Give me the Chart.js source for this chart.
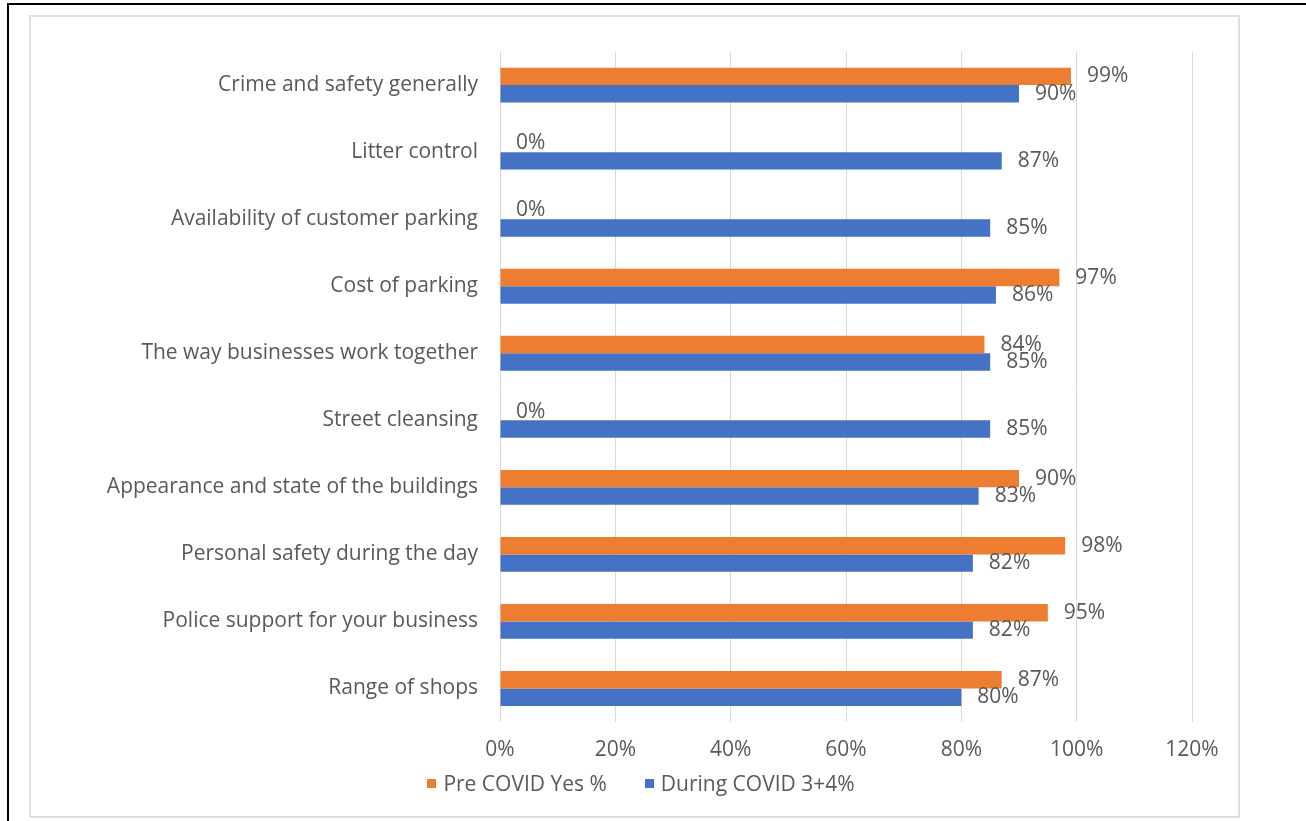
<!DOCTYPE html>
<html>
<head>
<meta charset="utf-8">
<script src="https://cdn.jsdelivr.net/npm/chart.js@4.4.1/dist/chart.umd.min.js"></script>
<style>
  html, body { margin: 0; padding: 0; background: #fff; width: 1306px; height: 821px; overflow: hidden; }
  #frame { position: absolute; left: 7px; top: 3px; width: 1320px; height: 840px;
           border-top: 2px solid #000; border-left: 2px solid #000; }
  #panel { position: absolute; left: 29px; top: 15px; width: 1207px; height: 799px;
           border: 2px solid #e0e0e0; background: #fff; }
  #chartBox { position: absolute; left: 0; top: 0; width: 1207px; height: 799px; }
  #legend { position: absolute; left: 0; top: 753px; width: 1207px; box-sizing: border-box;
            padding-left: 13px; display: flex; justify-content: center; align-items: center;
            font: 21px "Open Sans", sans-serif; color: #595959; line-height: 26px; }
  #legend .item { display: flex; align-items: center; margin: 0 19px; }
  #legend .box { width: 9px; height: 9px; margin-right: 7px; }
</style>
</head>
<body>
<div id="frame"></div>
<div id="panel">
  <div id="chartBox"><canvas id="chart"></canvas></div>
  <div id="legend"></div>
</div>
<script>
const categories = [
  'Crime and safety generally',
  'Litter control',
  'Availability of customer parking',
  'Cost of parking',
  'The way businesses work together',
  'Street cleansing',
  'Appearance and state of the buildings',
  'Personal safety during the day',
  'Police support for your business',
  'Range of shops'
];
const preCovid = [99, 0, 0, 97, 84, 0, 90, 98, 95, 87];
const duringCovid = [90, 87, 85, 86, 85, 85, 83, 82, 82, 80];
const seriesNames = ['Pre COVID Yes %', 'During COVID 3+4%'];
const xTicks = [0, 20, 40, 60, 80, 100, 120];

const ORANGE = '#ED7D31';
const BLUE = '#4472C4';
const TEXT = '#595959';
const FONT = '"Open Sans", sans-serif';
const FONT_SIZE = 21;

// value labels placed just past the end of each bar
const valueLabels = {
  id: 'valueLabels',
  afterDatasetsDraw(chart) {
    const ctx = chart.ctx;
    ctx.save();
    ctx.font = FONT_SIZE + 'px ' + FONT;
    ctx.fillStyle = TEXT;
    ctx.textAlign = 'left';
    ctx.textBaseline = 'middle';
    chart.data.datasets.forEach((ds, i) => {
      const meta = chart.getDatasetMeta(i);
      meta.data.forEach((bar, j) => {
        ctx.fillText(ds.data[j] + '%', bar.x + 16, bar.y);
      });
    });
    ctx.restore();
  }
};

// HTML legend built from the chart's own legend items
const htmlLegend = {
  id: 'htmlLegend',
  afterUpdate(chart) {
    const box = document.getElementById('legend');
    box.innerHTML = '';
    const items = chart.options.plugins.legend.labels.generateLabels(chart);
    items.forEach(item => {
      const el = document.createElement('div');
      el.className = 'item';
      const sw = document.createElement('span');
      sw.className = 'box';
      sw.style.background = item.fillStyle;
      const tx = document.createElement('span');
      tx.textContent = item.text;
      el.appendChild(sw);
      el.appendChild(tx);
      box.appendChild(el);
    });
  }
};

new Chart(document.getElementById('chart'), {
  type: 'bar',
  data: {
    labels: categories,
    datasets: [
      { label: seriesNames[0], data: preCovid, backgroundColor: ORANGE,
        categoryPercentage: 0.52, barPercentage: 1.0 },
      { label: seriesNames[1], data: duringCovid, backgroundColor: BLUE,
        categoryPercentage: 0.52, barPercentage: 1.0 }
    ]
  },
  options: {
    indexAxis: 'y',
    responsive: true,
    maintainAspectRatio: false,
    animation: false,
    layout: { padding: { top: 30, right: 46, bottom: 54, left: 0 } },
    plugins: {
      legend: { display: false },
      tooltip: { enabled: false }
    },
    scales: {
      x: {
        min: 0, max: 120,
        afterBuildTicks(scale) { scale.ticks = xTicks.map(v => ({ value: v })); },
        afterFit(scale) { scale.height = 40; },
        ticks: {
          padding: 15,
          color: TEXT,
          font: { family: FONT, size: FONT_SIZE },
          callback: v => v + '%'
        },
        grid: { color: '#d9d9d9', lineWidth: 1, drawTicks: false },
        border: { display: false }
      },
      y: {
        afterFit(scale) { scale.width = 469; },
        ticks: {
          padding: 22,
          color: TEXT,
          font: { family: FONT, size: FONT_SIZE }
        },
        grid: { display: false, drawTicks: false },
        border: { display: false }
      }
    }
  },
  plugins: [valueLabels, htmlLegend]
});
</script>
</body>
</html>
